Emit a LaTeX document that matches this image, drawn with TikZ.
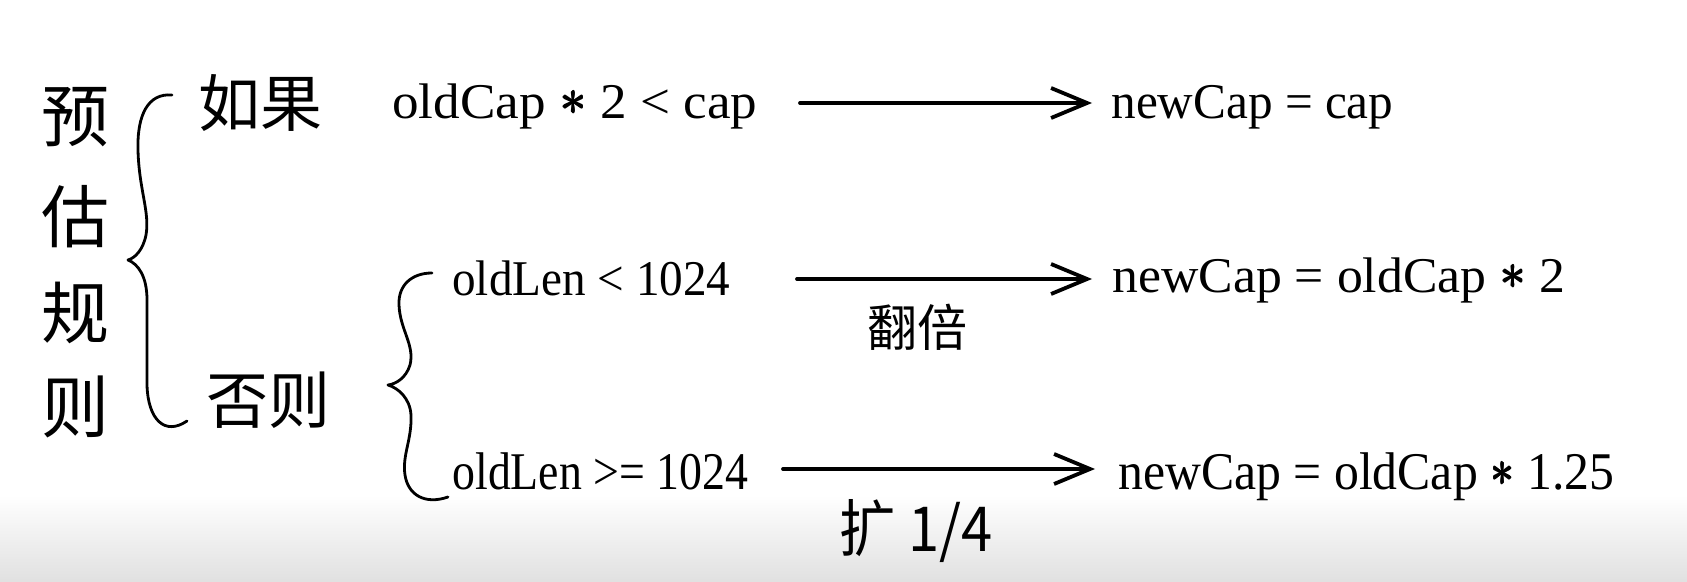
\documentclass[tikz,border=0pt]{standalone}
\usepackage{fontspec}
\usepackage{graphicx}
\usetikzlibrary{arrows.meta}
\newfontfamily\cjk{Noto Sans CJK SC}
\newfontfamily\lat{Liberation Serif}
\newcommand{\fitw}[2]{\resizebox{#1}{\height}{#2}}
\newcommand{\bast}{\raisebox{2.4pt}{\rlap{$\ast$}\rlap{\kern0.7pt$\ast$}\rlap{\kern0.35pt\raisebox{0.5pt}{$\ast$}}\rlap{\kern0.35pt\raisebox{-0.5pt}{$\ast$}}\kern0.7pt$\ast$}}
\begin{document}
\begin{tikzpicture}[x=0.5pt,y=-0.5pt,
  lbl/.style={inner sep=0pt, anchor=base west, font=\lat\fontsize{25pt}{29pt}\selectfont},
  lblbig/.style={lbl, font=\lat\fontsize{26.5pt}{30pt}\selectfont},
  cjkbig/.style={inner sep=0pt, font=\cjk\fontsize{34pt}{40pt}\selectfont},
  cjkmid/.style={inner sep=0pt, font=\cjk\fontsize{31pt}{36pt}\selectfont},
  cjksmall/.style={inner sep=0pt, font=\cjk\fontsize{25pt}{30pt}\selectfont},
  arr/.style={line width=1.9pt, line cap=round, -{Straight Barb[length=18pt,width=15pt]}},
  brace/.style={line width=1.4pt, line cap=round, line join=round}]
\useasboundingbox (0,0) rectangle (1687,582);
\fill[white] (0,0) rectangle (1687,582);
\shade[top color=white, bottom color=black!12] (0,495) rectangle (1687,582);

% left column
\node[cjkbig] (yu) at (75,117) {预};
\node[cjkbig] (gu) at (75,217) {估};
\node[cjkbig] (gui) at (75,313) {规};
\node[cjkbig] (ze) at (75,407) {则};

% big brace
\draw[brace] (172,95) .. controls (148,93) and (137,115) .. (138,150)
  .. controls (139,190) and (150,212) .. (146,235)
  .. controls (143,250) and (135,258) .. (128,260)
  .. controls (138,264) and (147,276) .. (147,300)
  -- (147,385) .. controls (148,420) and (165,436) .. (187,421);

\node[cjkmid] (ruguo) at (260,103) {如果};
\node[cjkmid] (fouze) at (268,400) {否则};

% second brace
\draw[brace] (432,273) .. controls (412,273) and (398,285) .. (399,305)
  .. controls (400,330) and (415,345) .. (410,365)
  .. controls (406,378) and (396,384) .. (388,385)
  .. controls (398,388) and (410,398) .. (411,415)
  .. controls (412,440) and (402,455) .. (405,475)
  .. controls (408,495) and (425,505) .. (448,497);

% texts
\node[lbl] (c1) at (392,119) {\fitw{182.5pt}{oldCap \bast{} 2 < cap}};
\node[lbl] (r1) at (1111,119) {\fitw{141pt}{newCap = cap}};
\node[lbl] (c2) at (452,296) {\fitw{139pt}{oldLen < 1024}};
\node[lbl] (r2) at (1112,293) {\fitw{226.5pt}{newCap = oldCap \bast{} 2}};
\node[lblbig] (c3) at (452,490) {\fitw{148pt}{oldLen >= 1024}};
\node[lblbig] (r3) at (1118,490) {\fitw{248pt}{newCap = oldCap \bast{} 1.25}};

% arrows
\coordinate (a1s) at (800,103); \coordinate (a1e) at (1092,103);
\coordinate (a2s) at (797,279); \coordinate (a2e) at (1092,279);
\coordinate (a3s) at (783,469); \coordinate (a3e) at (1095,469);
\draw[arr] (a1s) -- (a1e);
\draw[arr] (a2s) -- (a2e);
\draw[arr] (a3s) -- (a3e);

\node[cjksmall] (fanbei) at (917,327) {翻倍};
\node[cjkmid] (kuo) at (916,531) {\fitw{76.5pt}{扩 1/4}};
\end{tikzpicture}
\end{document}
